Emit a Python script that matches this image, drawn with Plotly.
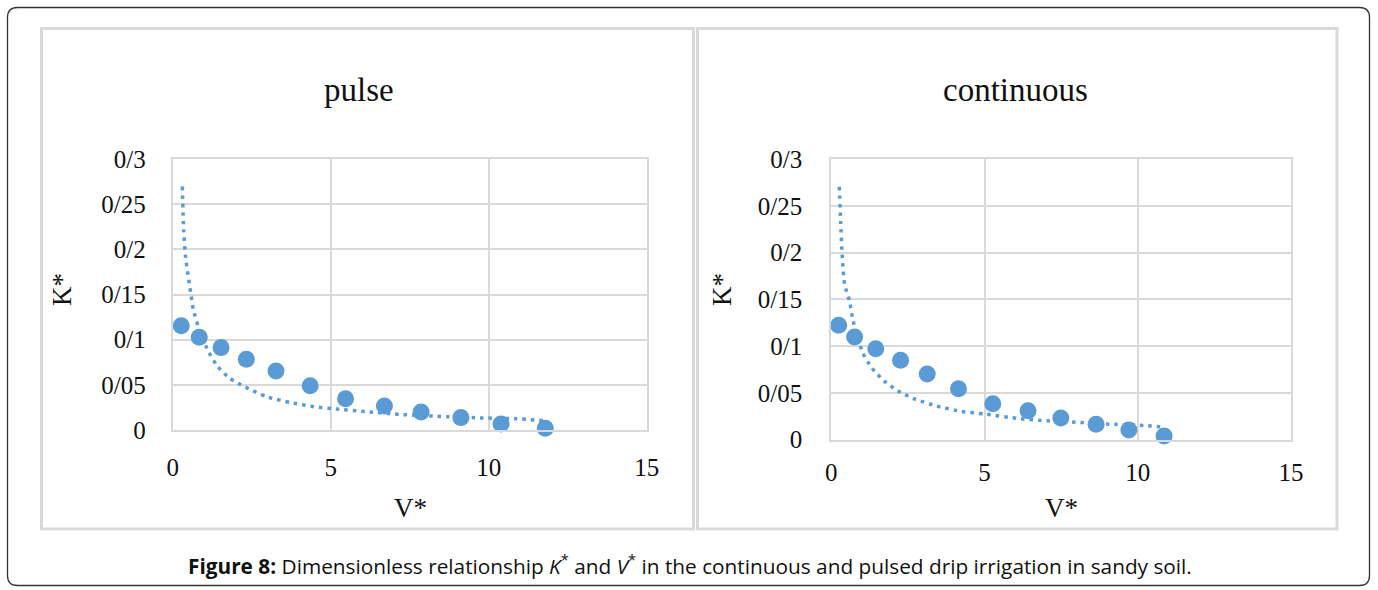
import plotly.graph_objects as go

# ---------------- data ----------------
pulse_v = [0.27, 0.84, 1.53, 2.33, 3.27, 4.35, 5.47, 6.70, 7.86, 9.12, 10.39, 11.79]
pulse_k = [0.1155, 0.1026, 0.0912, 0.0783, 0.0653, 0.0491, 0.0347, 0.0266, 0.0199, 0.0137, 0.0066, 0.0019]

cont_v = [0.24, 0.76, 1.45, 2.26, 3.13, 4.15, 5.27, 6.42, 7.49, 8.64, 9.71, 10.86]
cont_k = [0.1222, 0.1097, 0.0973, 0.0848, 0.0702, 0.0545, 0.0385, 0.0310, 0.0232, 0.0164, 0.0103, 0.0039]

pulse_trend_v = [0.305, 0.347, 0.41, 0.484, 0.569, 0.653, 0.811, 1.117, 1.402, 1.792, 2.267,
                 2.973, 3.733, 4.535, 5.07, 6.14, 7.30, 8.67, 9.83, 10.88, 11.73]
pulse_trend_k = [0.2695, 0.2204, 0.1908, 0.1716, 0.1525, 0.1333, 0.1144, 0.0879, 0.0712, 0.0576, 0.0480,
                 0.0369, 0.0303, 0.0255, 0.0236, 0.0203, 0.0170, 0.0148, 0.0133, 0.0125, 0.0103]

cont_trend_v = [0.262, 0.306, 0.36, 0.437, 0.60, 0.698, 1.024, 1.328, 1.72, 2.166, 2.666,
                3.438, 4.232, 5.015, 6.157, 7.03, 8.117, 8.987, 10.18, 10.73]
cont_trend_k = [0.2704, 0.2323, 0.1942, 0.1657, 0.1475, 0.1290, 0.0930, 0.0766, 0.0627, 0.0524, 0.0442,
                0.0360, 0.0303, 0.0274, 0.0224, 0.0203, 0.0185, 0.0167, 0.0153, 0.0139]

x_tick_vals = [0, 5, 10, 15]
y_tick_vals = [0, 0.05, 0.1, 0.15, 0.2, 0.25, 0.3]
y_tick_text = ["0", "0/05", "0/1", "0/15", "0/2", "0/25", "0/3"]

panel_titles = ["pulse", "continuous"]
x_title = "V*"
y_title = "K*"
caption = ("<b>Figure 8:</b> Dimensionless relationship <i>K</i><sup>*</sup> and "
           "<i>V</i><sup>*</sup> in the continuous and pulsed drip irrigation in sandy soil.")

# ---------------- figure ----------------
W, H = 1378, 590
BLUE = "#5b9bd5"
GRID = "#d9d9d9"
SERIF = "Liberation Serif, Times New Roman, serif"


def px(x):
    return x / W


def py(y):
    return 1 - y / H


fig = go.Figure()

for (tv, tk, v, k, xa, ya) in [
    (pulse_trend_v, pulse_trend_k, pulse_v, pulse_k, "x", "y"),
    (cont_trend_v, cont_trend_k, cont_v, cont_k, "x2", "y2"),
]:
    fig.add_trace(go.Scatter(
        x=tv, y=tk, mode="lines", xaxis=xa, yaxis=ya,
        line=dict(color=BLUE, width=3.5, dash="3.5px,5px", shape="spline", smoothing=0.6),
        hoverinfo="skip", cliponaxis=False,
    ))
    fig.add_trace(go.Scatter(
        x=v, y=k, mode="markers", xaxis=xa, yaxis=ya,
        marker=dict(color=BLUE, size=17, line=dict(width=0)),
        cliponaxis=False,
    ))

axis_common = dict(
    range=[0, 15], tickvals=x_tick_vals, showgrid=True, gridcolor=GRID, gridwidth=2,
    showline=True, linecolor=GRID, linewidth=2, mirror=True, zeroline=False, automargin=False,
    ticks="", tickfont=dict(family=SERIF, size=25, color="#111111"),
)
yaxis_common = dict(
    range=[0, 0.3], tickvals=y_tick_vals, ticktext=y_tick_text, showgrid=True,
    gridcolor=GRID, gridwidth=2, showline=True, linecolor=GRID, linewidth=2, mirror=True,
    zeroline=False, automargin=False, ticks="", tickfont=dict(family=SERIF, size=25, color="#111111"),
)

fig.update_layout(
    width=W, height=H, autosize=False,
    margin=dict(l=0, r=0, t=0, b=0, pad=0, autoexpand=False),
    paper_bgcolor="white", plot_bgcolor="white",
    showlegend=False,
    xaxis=dict(domain=[px(172.7), px(646.7)], anchor="y", ticklabelstandoff=14, **axis_common),
    yaxis=dict(domain=[py(430), py(159)], anchor="x", ticklabelstandoff=20, **yaxis_common),
    xaxis2=dict(domain=[px(831.3), px(1291)], anchor="y2", ticklabelstandoff=9, **axis_common),
    yaxis2=dict(domain=[py(439.7), py(159)], anchor="x2", ticklabelstandoff=22, **yaxis_common),
)

# panel frames
shapes = []
for (x0, x1) in [(41.5, 693.5), (697.5, 1337)]:
    shapes.append(dict(type="rect", xref="paper", yref="paper",
                       x0=px(x0), x1=px(x1), y0=py(529), y1=py(28.5),
                       line=dict(color=GRID, width=3), fillcolor="rgba(0,0,0,0)", layer="below"))

# rounded outer border
bx0, by0, bx1, by1, r = 7.5, 7.5, 1369.5, 585.5, 10
path = (
    f"M {px(bx0 + r)},{py(by0)} L {px(bx1 - r)},{py(by0)} "
    f"Q {px(bx1)},{py(by0)} {px(bx1)},{py(by0 + r)} "
    f"L {px(bx1)},{py(by1 - r)} Q {px(bx1)},{py(by1)} {px(bx1 - r)},{py(by1)} "
    f"L {px(bx0 + r)},{py(by1)} Q {px(bx0)},{py(by1)} {px(bx0)},{py(by1 - r)} "
    f"L {px(bx0)},{py(by0 + r)} Q {px(bx0)},{py(by0)} {px(bx0 + r)},{py(by0)} Z"
)
shapes.append(dict(type="path", xref="paper", yref="paper", path=path,
                   line=dict(color="#333333", width=1.3)))
fig.update_layout(shapes=shapes)

annotations = []
# panel titles
for (t, cx) in zip(panel_titles, [359, 1015]):
    annotations.append(dict(text=t, x=px(cx), y=py(90), xref="paper", yref="paper",
                            showarrow=False, xanchor="center", yanchor="middle",
                            font=dict(family=SERIF, size=33, color="#111111")))
# axis titles
for cx in [410, 1061]:
    annotations.append(dict(text=x_title, x=px(cx), y=py(508), xref="paper", yref="paper",
                            showarrow=False, xanchor="center", yanchor="middle",
                            font=dict(family=SERIF, size=27, color="#111111")))
for cx in [62, 722]:
    annotations.append(dict(text=y_title, x=px(cx), y=py(290), xref="paper", yref="paper",
                            showarrow=False, xanchor="center", yanchor="middle", textangle=-90,
                            font=dict(family=SERIF, size=27, color="#111111")))
# caption
annotations.append(dict(text=caption, x=px(690), y=py(564), xref="paper", yref="paper",
                        showarrow=False, xanchor="center", yanchor="middle",
                        font=dict(family="Open Sans, sans-serif", size=20.8, color="#111111")))
fig.update_layout(annotations=annotations)

fig.write_html(
    "out.html",
    config={"displayModeBar": False},
    post_script="document.body.style.margin='0';document.body.style.overflow='hidden';",
)
